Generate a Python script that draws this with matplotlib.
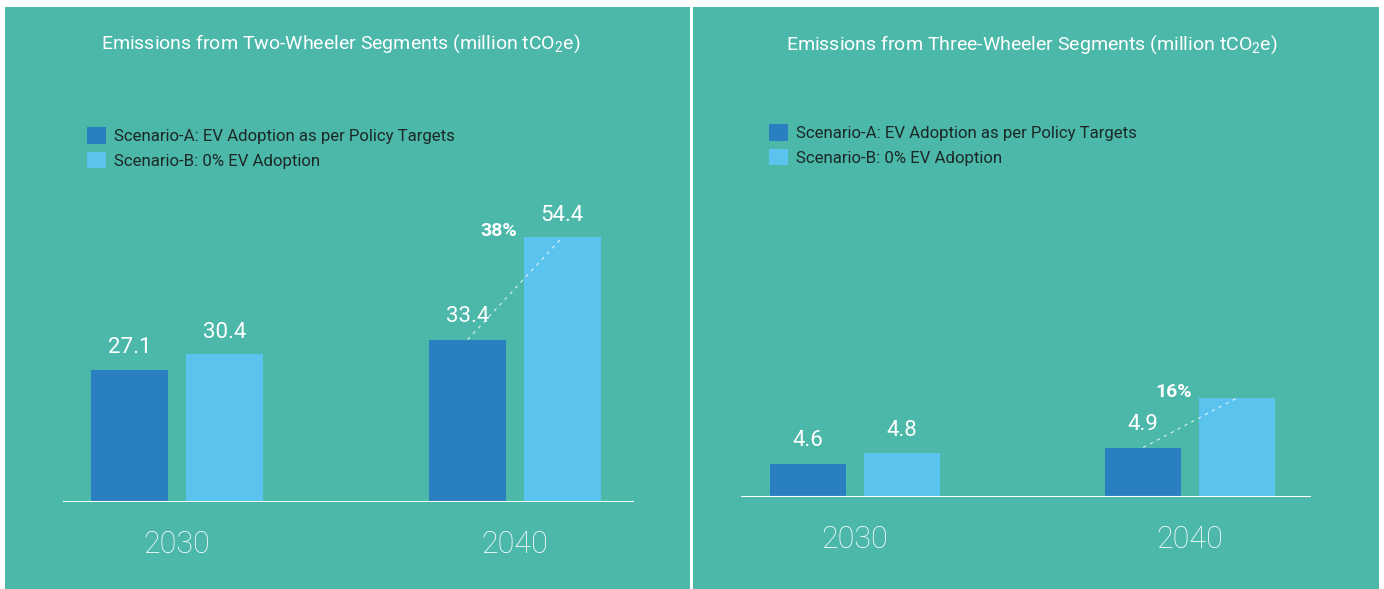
import numpy as np
import matplotlib.pyplot as plt
from matplotlib.patches import Rectangle, Patch

# data
years = ['2030', '2040']
two_a = [27.1, 33.4]
two_b = [30.4, 54.4]
three_a = [4.6, 4.9]
three_b = [4.8, 5.8]
two_labels_a = ['27.1', '33.4']
two_labels_b = ['30.4', '54.4']
three_labels_a = ['4.6', '4.9']
three_labels_b = ['4.8', None]
two_pct = '38%'
three_pct = '16%'
legend_labels = ['Scenario-A: EV Adoption as per Policy Targets',
                 'Scenario-B: 0% EV Adoption']

teal = '#4bb8a9'
dark_blue = '#2a7fc1'
light_blue = '#5ac3ee'
W, H = 1384, 589

plt.rcParams['font.family'] = ['Roboto', 'DejaVu Sans']
plt.rcParams['mathtext.fontset'] = 'custom'
plt.rcParams['mathtext.rm'] = 'Roboto'

fig = plt.figure(figsize=(W / 100, H / 100), dpi=100, facecolor='white')


def box(x0, y0, x1, y1):
    # pixel box (top-left origin) -> figure coords
    return [x0 / W, 1 - y1 / H, (x1 - x0) / W, (y1 - y0) / H]


# teal panels
for x0, x1 in [(5, 690), (693, 1379)]:
    b = box(x0, 7, x1, 589)
    fig.patches.append(Rectangle((b[0], b[1]), b[2], b[3], transform=fig.transFigure,
                                 facecolor=teal, edgecolor='none', zorder=-5))


def panel(rect, a, b, lab_a, lab_b, pct, ylim, xlim, title, title_xy, leg_xy):
    ax = fig.add_axes(box(*rect))
    ax.set_zorder(2)
    ax.set_facecolor('none')
    x = np.arange(len(years))
    off, w = 0.14, 0.228
    ax.bar(x - off, a, w, color=dark_blue, zorder=2)
    ax.bar(x + off, b, w, color=light_blue, zorder=2)
    ax.set_ylim(*ylim)
    ax.set_xlim(*xlim)
    ax.axhline(ylim[0], color='white', lw=1.5, zorder=3)
    for xi, v, t in zip(x - off, a, lab_a):
        if t:
            ax.annotate(t, (xi, v), xytext=(0, 23), textcoords='offset pixels',
                        ha='center', va='center', color='white', fontsize=16)
    for xi, v, t in zip(x + off, b, lab_b):
        if t:
            ax.annotate(t, (xi, v), xytext=(0, 22), textcoords='offset pixels',
                        ha='center', va='center', color='white', fontsize=16)
    # dashed connector and percentage for 2040
    ax.plot([x[1] - off, x[1] + off], [a[1], b[1]], ls=(0, (3, 4)), color='white',
            lw=0.8, alpha=0.8, zorder=3)
    ax.annotate(pct, (x[1] + off - w / 2, b[1]), xytext=(-25, 6), textcoords='offset pixels',
                ha='center', va='center', color='white', fontsize=14, fontweight='bold')
    ax.set_xticks(x)
    ax.set_xticklabels(years, fontsize=22, fontweight='light', color='white')
    ax.tick_params(length=0, pad=20)
    ax.set_yticks([])
    for s in ax.spines.values():
        s.set_visible(False)
    fig.text(title_xy[0] / W, 1 - title_xy[1] / H, title, ha='left', va='center',
             color='white', fontsize=14)
    handles = [Patch(facecolor=dark_blue), Patch(facecolor=light_blue)]
    fig.legend(handles, legend_labels, loc='upper left',
               bbox_to_anchor=(leg_xy[0] / W, 1 - leg_xy[1] / H), frameon=False,
               fontsize=12.1, labelcolor='#1c2826', handlelength=1.15, handleheight=1.15,
               handletextpad=0.45, labelspacing=0.45, borderpad=0, borderaxespad=0)
    return ax


panel((63, 200, 634, 502), two_a, two_b, two_labels_a, two_labels_b, two_pct,
      (0, 62.1), (-0.337, 1.352),
      r'Emissions from Two-Wheeler Segments (million tCO$\mathregular{_2}$e)', (101, 44), (87, 127))
panel((741, 200, 1311, 497), three_a, three_b, three_labels_a, three_labels_b, three_pct,
      (4.0, 9.4), (-0.34, 1.361),
      r'Emissions from Three-Wheeler Segments (million tCO$\mathregular{_2}$e)', (786, 45), (769, 124))

fig.savefig('out.png', dpi=100, facecolor='white')
